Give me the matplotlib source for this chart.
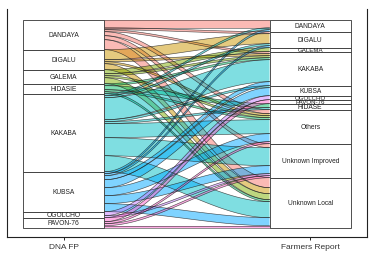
import numpy as np
import matplotlib
matplotlib.use("Agg")
import matplotlib.pyplot as plt

plt.rcParams['font.family'] = ['Liberation Sans', 'DejaVu Sans']

# left axis (DNA fingerprint) and right axis (farmers' report) strata
dna_fp = ['DANDAYA', 'DIGALU', 'GALEMA', 'HIDASIE', 'KAKABA', 'KUBSA', 'OGOLCHO', 'PAVON-76']
farmers = ['DANDAYA', 'DIGALU', 'GALEMA', 'KAKABA', 'KUBSA', 'OGOLCHO', 'PAVON-76',
           'HIDASE', 'Others', 'Unknown Improved', 'Unknown Local']
axis_labels = ['DNA FP', 'Farmers Report']

# number of samples going from each DNA FP variety (rows) to each farmer name (cols)
counts = np.array([
    # DAN DIG GAL KAK KUB OGO PAV HID OTH UI  UL
    [4,  1,  0,  1,  0,  0,  0,  0,  2,  2,  5],   # DANDAYA
    [0,  5,  0,  1,  0,  0,  0,  0,  1,  0,  3],   # DIGALU
    [0,  0,  2,  1,  0,  0,  0,  0,  1,  0,  3],   # GALEMA
    [0,  0,  0,  1,  0,  0,  0,  2,  1,  0,  1],   # HIDASIE
    [1,  1,  0,  11, 1,  0,  0,  1,  7,  9,  8],   # KAKABA
    [1,  1,  0,  2,  4,  0,  0,  0,  4,  4,  4],   # KUBSA
    [0,  0,  0,  0,  0,  2,  0,  0,  0,  1,  0],   # OGOLCHO
    [0,  0,  0,  0,  0,  0,  2,  0,  1,  1,  1],   # PAVON-76
])

hue = ['#F8766D', '#CD9600', '#7CAE00', '#00BE67', '#00BFC4', '#00A9FF', '#C77CFF', '#FF61CC']

total = counts.sum()
w = 0.33

fig = plt.figure(figsize=(3.76, 2.55), dpi=100)
ax = fig.add_axes([7 / 376, 17 / 255, 360 / 376, 228 / 255])
ax.set_xlim(0.7695, 2.2305)
ax.set_ylim(-4.65, total + 5.35)

left_top = total - np.concatenate([[0], np.cumsum(counts.sum(axis=1))])
right_top = total - np.concatenate([[0], np.cumsum(counts.sum(axis=0))])

# band positions: left side sorted by right stratum, right side by left stratum
pairs = [(i, j) for i in range(len(dna_fp)) for j in range(len(farmers)) if counts[i, j] > 0]
lpos, rpos = {}, {}
fill = left_top[:-1].astype(float)
for i, j in pairs:
    lpos[(i, j)] = fill[i]
    fill[i] -= counts[i, j]
fill = right_top[:-1].astype(float)
for i, j in sorted(pairs, key=lambda p: (p[1], p[0])):
    rpos[(i, j)] = fill[j]
    fill[j] -= counts[i, j]

x0, x1 = 1 + w / 2, 2 - w / 2
t = np.linspace(0, 1, 80)
s = 3 * t ** 2 - 2 * t ** 3
xs = x0 + (x1 - x0) * t
for i, j in pairs:
    ya, yb = lpos[(i, j)], rpos[(i, j)]
    top = ya + (yb - ya) * s
    bot = top - counts[i, j]
    ax.fill_between(xs, bot, top, facecolor=hue[i], alpha=0.5, lw=0)
    ax.plot(xs, top, color='#1a1a1a', lw=0.45, alpha=0.75)
    ax.plot(xs, bot, color='#1a1a1a', lw=0.45, alpha=0.75)

# strata boxes with labels
for xc, names, tops in [(1, dna_fp, left_top), (2, farmers, right_top)]:
    for n, name in enumerate(names):
        hi, lo = tops[n], tops[n + 1]
        ax.add_patch(plt.Rectangle((xc - w / 2, lo), w, hi - lo, facecolor='white',
                                   edgecolor='#333333', lw=0.6, zorder=3))
        ax.text(xc, (hi + lo) / 2, name, ha='center', va='center',
                fontsize=4.8 if hi - lo > 2 else 4.4, color='#222222', zorder=4)

ax.set_xticks([1, 2])
ax.set_xticklabels(axis_labels, fontsize=6, color='#333333')
ax.set_yticks([])
ax.tick_params(axis='x', length=2, width=0.6, pad=2.5)
ax.spines['top'].set_visible(False)
for sp in ['left', 'right', 'bottom']:
    ax.spines[sp].set_linewidth(0.8)
    ax.spines[sp].set_color('#222222')

fig.savefig('out.png', dpi=100)
